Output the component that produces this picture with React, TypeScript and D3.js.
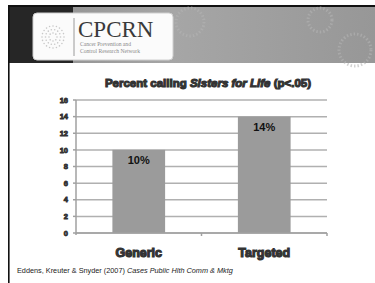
import React from 'react';
import * as d3 from 'd3';

const categories = ['Generic', 'Targeted'];
const values = [10, 14];
const valueLabels = ['10%', '14%'];
const yTicks = [0, 2, 4, 6, 8, 10, 12, 14, 16];

const W = 375;
const H = 283;
const plot = { left: 76, right: 327, top: 100, bottom: 233 };

export default function App() {
  const x = d3.scaleBand().domain(categories).range([plot.left, plot.right]).paddingInner(0.58).paddingOuter(0.29);
  const y = d3.scaleLinear().domain([0, 16]).range([plot.bottom, plot.top]);
  const bandStep = (plot.right - plot.left) / categories.length;

  // small ring-of-dots logo mark
  const dots: { cx: number; cy: number; r: number }[] = [];
  [4, 7.5, 11].forEach((rad, ri) => {
    const n = [8, 14, 20][ri];
    d3.range(n).forEach(i => {
      const a = (i / n) * Math.PI * 2;
      dots.push({ cx: 53 + rad * Math.cos(a), cy: 37 + rad * Math.sin(a), r: 0.8 });
    });
  });

  return (
    <div style={{ position: 'absolute', left: 0, top: 0 }}>
      <svg width={W} height={H} style={{ display: 'block', fontFamily: 'Liberation Sans, Arial, sans-serif' }}>
        <defs>
          <linearGradient id="hdr" x1="0" x2="1" y1="0" y2="0">
            <stop offset="0" stopColor="#8c8c8c" />
            <stop offset="0.45" stopColor="#a6a6a6" />
            <stop offset="1" stopColor="#979797" />
          </linearGradient>
        </defs>
        <rect width={W} height={H} fill="#fff" />
        {/* header */}
        <rect x={8} y={5} width={W - 8} height={58} fill="url(#hdr)" />
        <rect x={8} y={5} width={65} height={58} fill="#262626" />
        <rect x={8} y={5} width={W - 8} height={2} fill="#111" />
        {[{ cx: 190, cy: 22, r: 14 }, { cx: 320, cy: 20, r: 12 }, { cx: 355, cy: 50, r: 16 }].map((c, i) => (
          <circle key={i} cx={c.cx} cy={c.cy} r={c.r} fill="none" stroke="#b4b4b4" strokeWidth={3} strokeDasharray="1.5 2" opacity={0.6} />
        ))}
        <rect x={33} y={13} width={140} height={47} rx={4} fill="#fbfbfb" stroke="#cfcfcf" />
        {dots.map((d, i) => (
          <circle key={i} cx={d.cx} cy={d.cy} r={d.r} fill="#c8c8c8" />
        ))}
        <line x1={74} x2={74} y1={18} y2={56} stroke="#9a9a9a" strokeWidth={1} />
        <text x={78} y={37} fontFamily="Liberation Serif, serif" fontSize={23} fill="#3a3a3a">CPCRN</text>
        <text x={80} y={46} fontFamily="Liberation Serif, serif" fontSize={5.6} fill="#8a8a8a">Cancer Prevention and</text>
        <text x={80} y={53} fontFamily="Liberation Serif, serif" fontSize={5.6} fill="#8a8a8a">Control Research Network</text>
        <rect x={8} y={5} width={1.6} height={H - 5} fill="#111" />

        {/* title */}
        <text x={208} y={87} textAnchor="middle" fontSize={11.5} fontWeight={900} fill="#333" stroke="#333" strokeWidth={1.1}>
          Percent calling <tspan fontStyle="italic">Sisters for Life</tspan> (p&lt;.05)
        </text>

        {/* gridlines */}
        {yTicks.map(t => (
          <line key={t} x1={plot.left} x2={plot.right} y1={y(t)} y2={y(t)} stroke="#b0b0b0" strokeWidth={1.5} />
        ))}
        {/* y axis */}
        <line x1={plot.left} x2={plot.left} y1={y(16)} y2={y(0) + 2} stroke="#a0a0a0" strokeWidth={1.5} />
        {yTicks.map(t => (
          <g key={t}>
            <line x1={plot.left - 3} x2={plot.left} y1={y(t)} y2={y(t)} stroke="#a0a0a0" strokeWidth={1.5} />
            <text x={68} y={y(t)} dy="0.35em" textAnchor="end" fontSize={7.5} fontWeight={900} fill="#333" stroke="#333" strokeWidth={0.8}>
              {t}
            </text>
          </g>
        ))}
        {/* bars */}
        {categories.map((c, i) => (
          <g key={c}>
            <rect x={x(c)} y={y(values[i])} width={x.bandwidth()} height={y(0) - y(values[i])} fill="#9b9b9b" />
            <text x={(x(c) as number) + x.bandwidth() / 2} y={y(values[i]) + 14} textAnchor="middle" fontSize={11} fontWeight={700} fill="#111">
              {valueLabels[i]}
            </text>
          </g>
        ))}
        {/* x axis */}
        <line x1={plot.left} x2={plot.right} y1={y(0)} y2={y(0)} stroke="#a0a0a0" strokeWidth={1.5} />
        {categories.map((c, i) => (
          <line key={c} x1={plot.left + bandStep * (i + 1)} x2={plot.left + bandStep * (i + 1)} y1={y(0)} y2={y(0) + 3} stroke="#a0a0a0" strokeWidth={1.5} />
        ))}
        {categories.map(c => (
          <text key={c} x={(x(c) as number) + x.bandwidth() / 2} y={257} textAnchor="middle" fontSize={12.5} fontWeight={900} fill="#333" stroke="#333" strokeWidth={1.1}>
            {c}
          </text>
        ))}

        {/* footer */}
        <text x={17} y={273} fontSize={7.3} fill="#222">
          Eddens, Kreuter &amp; Snyder (2007) <tspan fontStyle="italic">Cases Public Hlth Comm &amp; Mktg</tspan>
        </text>
      </svg>
    </div>
  );
}
